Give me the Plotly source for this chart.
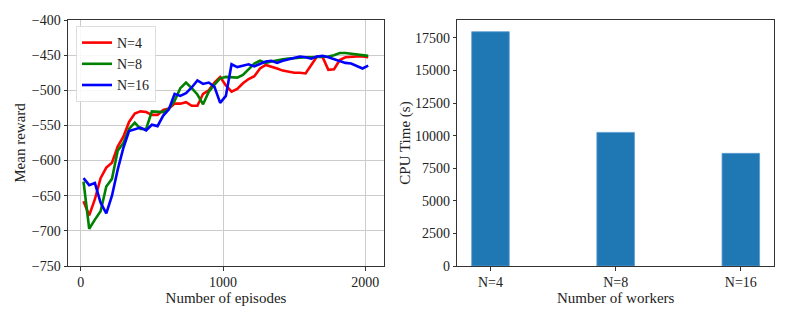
import plotly.graph_objects as go

episodes = [20, 60, 100, 140, 180, 220, 260, 300, 340, 380, 420, 460, 500, 540, 580, 620,
            660, 700, 740, 780, 820, 860, 900, 940, 980, 1020, 1060, 1100, 1140, 1180, 1220,
            1260, 1300, 1340, 1380, 1420, 1460, 1500, 1540, 1580, 1620, 1660, 1700, 1740,
            1780, 1820, 1860, 1900, 1940, 1980, 2020]

reward_n4 = [-658, -678, -655, -625, -610, -603, -580, -566, -545, -533, -530, -531, -535,
             -535, -528, -526, -519, -519, -517, -522, -522, -505, -500, -489, -481, -493,
             -502, -498, -490, -484, -480, -469, -464, -466, -469, -472, -474, -475, -475,
             -476, -464, -452, -453, -471, -470, -457, -453, -452, -452, -452, -453]

reward_n8 = [-630, -697, -684, -672, -637, -626, -586, -575, -555, -546, -555, -555, -530,
             -530, -531, -526, -515, -497, -489, -497, -506, -520, -502, -492, -483, -481,
             -482, -482, -478, -470, -462, -458, -461, -459, -457, -456, -455, -454, -454,
             -453, -453, -453, -453, -452, -450, -447, -447, -448, -449, -450, -451]

reward_n16 = [-625, -635, -632, -660, -675, -650, -613, -582, -558, -556, -553, -557, -549,
              -551, -536, -527, -505, -508, -504, -496, -486, -491, -489, -495, -518, -508,
              -463, -467, -465, -463, -466, -462, -459, -458, -461, -458, -456, -454, -452,
              -453, -455, -452, -451, -453, -456, -459, -461, -462, -466, -469, -465]

workers = ["N=4", "N=8", "N=16"]
cpu_time = [17970, 10250, 8640]

reward_ticks = [-400, -450, -500, -550, -600, -650, -700, -750]
episode_ticks = [0, 1000, 2000]
cpu_ticks = [0, 2500, 5000, 7500, 10000, 12500, 15000, 17500]

FONT = "Liberation Serif"
W, H = 789, 316

fig = go.Figure()

series = [("N=4", reward_n4, "#ff0000"), ("N=8", reward_n8, "#008000"), ("N=16", reward_n16, "#0000ff")]
for name, vals, col in series:
    fig.add_trace(go.Scatter(x=episodes, y=vals, mode="lines", name=name,
                             line=dict(color=col, width=2.6), xaxis="x", yaxis="y"))

fig.add_trace(go.Bar(x=list(range(len(workers))), y=cpu_time, width=0.3,
                     marker=dict(color="#1f77b4", line=dict(color="#5b9bd0", width=0.8)),
                     showlegend=False, xaxis="x2", yaxis="y2"))

ytop = 1 - 20 / H
ybot = 1 - 266 / H
tfont = dict(family=FONT, size=15, color="#222222")
axis_common = dict(showline=True, mirror=True, linecolor="#333333", linewidth=1,
                   ticks="outside", ticklen=3.5, tickcolor="#333333", zeroline=False,
                   automargin=False,
                   tickfont=dict(family=FONT, size=14, color="#222222"))

fig.update_layout(
    width=W, height=H,
    margin=dict(l=0, r=0, t=0, b=0),
    paper_bgcolor="white", plot_bgcolor="white",
    showlegend=True,
    legend=dict(x=76 / W, y=1 - 26 / H, xanchor="left", yanchor="top",
                bgcolor="rgba(255,255,255,0.85)", bordercolor="#dddddd", borderwidth=1,
                font=dict(family=FONT, size=14, color="#222222"),
                tracegroupgap=0, itemwidth=30),
    xaxis=dict(domain=[68 / W, 384 / W], range=[-89, 2131], tickvals=episode_ticks,
               ticktext=[str(v) for v in episode_ticks],
               showgrid=True, gridcolor="#cccccc", gridwidth=1, anchor="y",
               title=dict(text="Number of episodes", font=tfont, standoff=2),
               **axis_common),
    yaxis=dict(domain=[ybot, ytop], range=[-750, -400], tickvals=reward_ticks,
               ticktext=[("\u2212" + str(-v)) for v in reward_ticks],
               showgrid=True, gridcolor="#cccccc", gridwidth=1, anchor="x",
               title=dict(text="Mean reward", font=tfont, standoff=2),
               **axis_common),
    xaxis2=dict(domain=[457.3 / W, 774 / W], range=[-0.265, 2.265],
                tickvals=list(range(len(workers))), ticktext=workers,
                showgrid=False, anchor="y2",
                title=dict(text="Number of workers", font=tfont, standoff=2),
                **axis_common),
    yaxis2=dict(domain=[ybot, ytop], range=[0, 18870], tickvals=cpu_ticks,
                ticktext=[str(v) for v in cpu_ticks],
                showgrid=False, anchor="x2",
                title=dict(text="CPU Time (s)", font=tfont, standoff=0),
                **axis_common),
)

fig.write_html("out.html", config={"displayModeBar": False},
               post_script="document.body.style.margin='0';document.body.style.overflow='hidden';")
